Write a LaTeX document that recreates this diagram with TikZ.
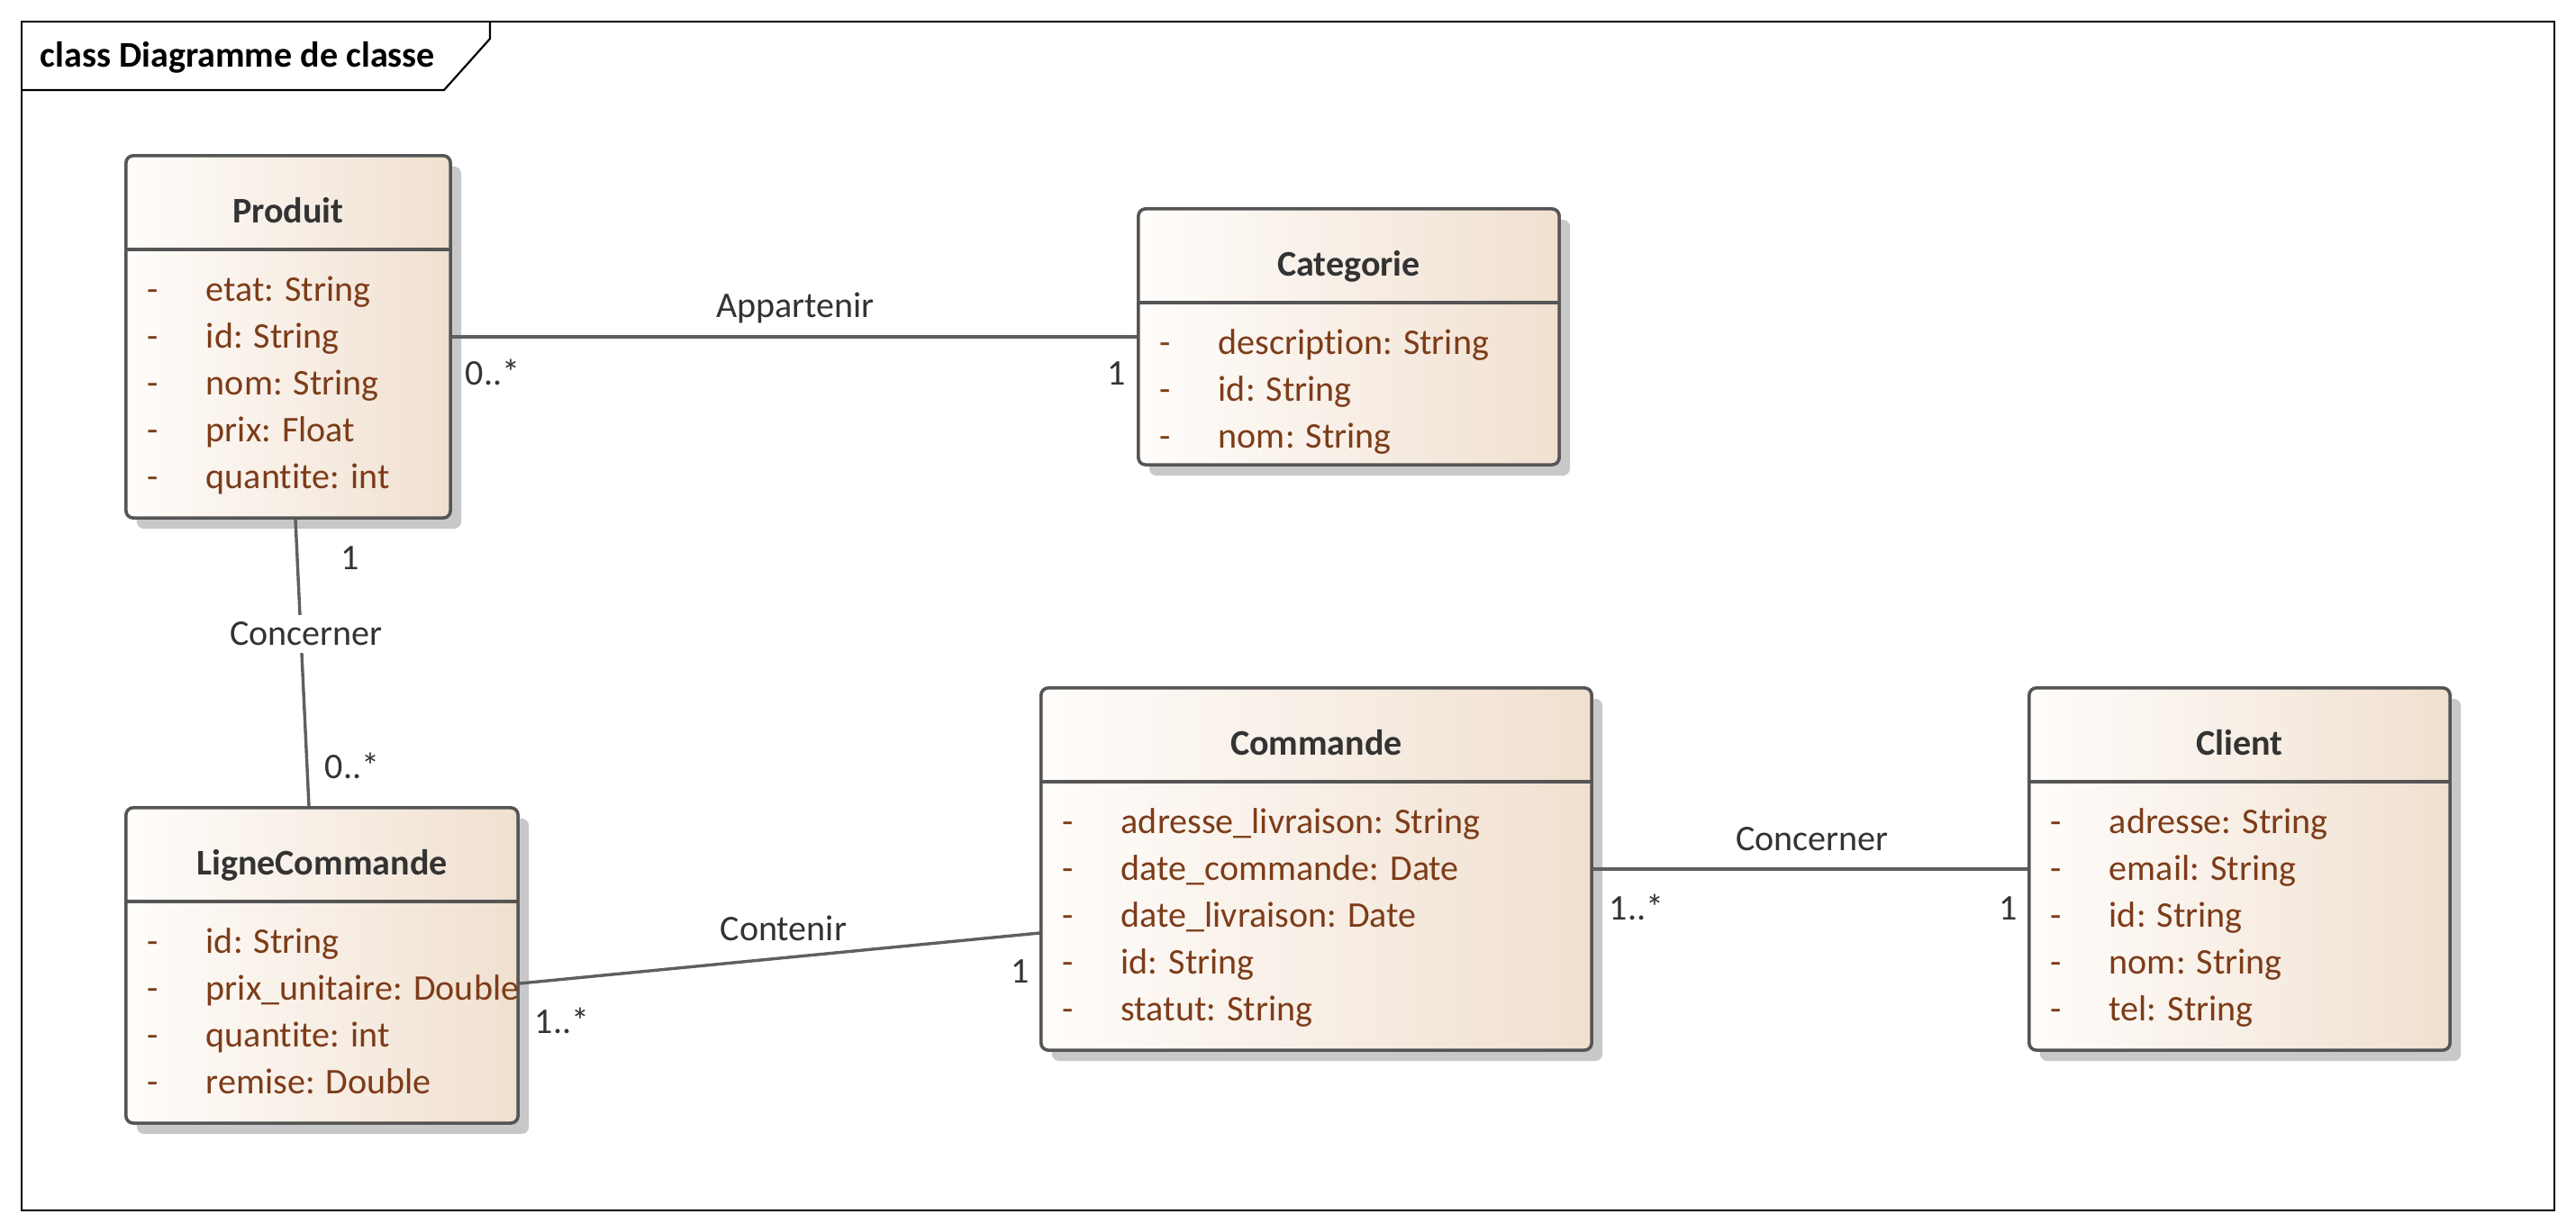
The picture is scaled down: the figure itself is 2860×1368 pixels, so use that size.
\documentclass[tikz,border=0pt]{standalone}
\usepackage{fontspec}
\setmainfont{Carlito}[Ligatures=NoCommon]
\usepackage{xcolor}
\usepackage{tikz}
\usetikzlibrary{calc, positioning, shadows}

\definecolor{borderGray}{RGB}{85,85,85}
\definecolor{lineGray}{RGB}{95,95,95}
\definecolor{nameGray}{RGB}{51,51,51}
\definecolor{attrBrown}{RGB}{125,60,25}
\definecolor{boxLeft}{RGB}{255,253,251}
\definecolor{boxRight}{RGB}{240,224,208}
\definecolor{shadowGray}{RGB}{200,200,200}

\begin{document}
\begin{tikzpicture}[x=0.01cm, y=-0.01cm,
    txt/.style={font=\fontsize{11.4}{14.8}\selectfont},
    classBox/.style={draw=borderGray, line width=0.036cm, rounded corners=0.08cm,
        left color=boxLeft, right color=boxRight, inner sep=0pt,
        drop shadow={shadow xshift=0.12cm, shadow yshift=-0.12cm, fill=shadowGray, opacity=1}},
    divLine/.style={draw=borderGray, line width=0.036cm},
    className/.style={font=\fontsize{11.4}{14.8}\selectfont\bfseries, text=nameGray, anchor=base, inner sep=0pt},
    attrList/.style={txt, text=attrBrown, anchor=base west, inner sep=0pt},
    assoc/.style={draw=lineGray, line width=0.034cm},
    assocLabel/.style={txt, text=nameGray, anchor=base, fill=white, inner sep=0.08cm},
    mult/.style={txt, text=nameGray, inner sep=0pt}]

    % =================================================================
    % 1. KHUNG SƠ ĐỒ VÀ TIÊU ĐỀ
    % =================================================================
    \useasboundingbox (0,0) rectangle (2860,1368);
    \draw[line width=0.022cm] (24,24) rectangle (2836,1344);
    \draw[line width=0.022cm] (24,100) -- (493,100) -- (544,43) -- (544,24);
    \node[font=\fontsize{11.4}{14.8}\selectfont\bfseries, anchor=base west, inner sep=0pt] (Title) at (44,75) {class Diagramme de classe};

    % =================================================================
    % 2. CÁC LỚP (KHUNG, TÊN LỚP, THUỘC TÍNH)
    % =================================================================
    % Lớp Produit
    \node[classBox, minimum width=3.6cm, minimum height=4.02cm] (Produit) at (320,374) {};
    \draw[divLine] ($(Produit.north west)+(0,106)$) -- ($(Produit.north east)+(0,106)$);
    \node[className] (ProduitName) at ($(Produit.north)+(0,76)$) {Produit};
    \node[attrList] (ProduitAttr) at ($(Produit.north west)+(25,163)$) {\begin{tabular}[t]{@{}p{0.65cm}@{}l@{}}
        - & etat: String\\
        - & id: String\\
        - & nom: String\\
        - & prix: Float\\
        - & quantite: int
    \end{tabular}};

    % Lớp Categorie
    \node[classBox, minimum width=4.67cm, minimum height=2.84cm] (Categorie) at (1497.5,374) {};
    \draw[divLine] ($(Categorie.north west)+(0,106)$) -- ($(Categorie.north east)+(0,106)$);
    \node[className] (CategorieName) at ($(Categorie.north)+(0,76)$) {Categorie};
    \node[attrList] (CategorieAttr) at ($(Categorie.north west)+(25,163)$) {\begin{tabular}[t]{@{}p{0.65cm}@{}l@{}}
        - & description: String\\
        - & id: String\\
        - & nom: String
    \end{tabular}};

    % Lớp LigneCommande
    \node[classBox, minimum width=4.35cm, minimum height=3.5cm] (LigneCmd) at (357.5,1072) {};
    \draw[divLine] ($(LigneCmd.north west)+(0,106)$) -- ($(LigneCmd.north east)+(0,106)$);
    \node[className] (LigneCmdName) at ($(LigneCmd.north)+(0,76)$) {LigneCommande};
    \node[attrList] (LigneCmdAttr) at ($(LigneCmd.north west)+(25,163)$) {\begin{tabular}[t]{@{}p{0.65cm}@{}l@{}}
        - & id: String\\
        - & prix\_unitaire: Double\\
        - & quantite: int\\
        - & remise: Double
    \end{tabular}};

    % Lớp Commande
    \node[classBox, minimum width=6.11cm, minimum height=4.02cm] (Commande) at (1461.5,965) {};
    \draw[divLine] ($(Commande.north west)+(0,106)$) -- ($(Commande.north east)+(0,106)$);
    \node[className] (CommandeName) at ($(Commande.north)+(0,76)$) {Commande};
    \node[attrList] (CommandeAttr) at ($(Commande.north west)+(25,163)$) {\begin{tabular}[t]{@{}p{0.65cm}@{}l@{}}
        - & adresse\_livraison: String\\
        - & date\_commande: Date\\
        - & date\_livraison: Date\\
        - & id: String\\
        - & statut: String
    \end{tabular}};

    % Lớp Client
    \node[classBox, minimum width=4.67cm, minimum height=4.02cm] (Client) at (2486.5,965) {};
    \draw[divLine] ($(Client.north west)+(0,106)$) -- ($(Client.north east)+(0,106)$);
    \node[className] (ClientName) at ($(Client.north)+(0,76)$) {Client};
    \node[attrList] (ClientAttr) at ($(Client.north west)+(25,163)$) {\begin{tabular}[t]{@{}p{0.65cm}@{}l@{}}
        - & adresse: String\\
        - & email: String\\
        - & id: String\\
        - & nom: String\\
        - & tel: String
    \end{tabular}};

    % =================================================================
    % 3. CÁC LIÊN KẾT GIỮA CÁC LỚP
    % =================================================================
    \draw[assoc] (Produit.east) -- (Categorie.west);
    \draw[assoc] ([xshift=0.08cm]Produit.south) -- ([xshift=-0.145cm]LigneCmd.north);
    \draw[assoc] ([yshift=-0.2cm]LigneCmd.east) -- ([yshift=-0.71cm]Commande.west);
    \draw[assoc] (Commande.east) -- (Client.west);

    % =================================================================
    % 4. TÊN LIÊN KẾT VÀ BẢN SỐ
    % =================================================================
    % Appartenir
    \node[assocLabel] (Appartenir) at (883,353) {Appartenir};
    \node[mult, anchor=base west] (MultProdCat) at (516,428) {0..*};
    \node[mult, anchor=base east] (MultCatProd) at (1251,428) {1};

    % Concerner (Produit - LigneCommande)
    \node[assocLabel] (ConcernerA) at (340,717) {Concerner};
    \node[mult, anchor=base west] (MultProdLig) at (378,633) {1};
    \node[mult, anchor=base west] (MultLigProd) at (360,865) {0..*};

    % Contenir
    \node[assocLabel] (Contenir) at (870,1045) {Contenir};
    \node[mult, anchor=base west] (MultLigCmd) at (593,1148) {1..*};
    \node[mult, anchor=base] (MultCmdLig) at (1133,1092) {1};

    % Concerner (Commande - Client)
    \node[assocLabel] (ConcernerB) at (2012,945) {Concerner};
    \node[mult, anchor=base west] (MultCmdCli) at (1786,1022) {1..*};
    \node[mult, anchor=base] (MultCliCmd) at (2230,1022) {1};

\end{tikzpicture}
\end{document}
